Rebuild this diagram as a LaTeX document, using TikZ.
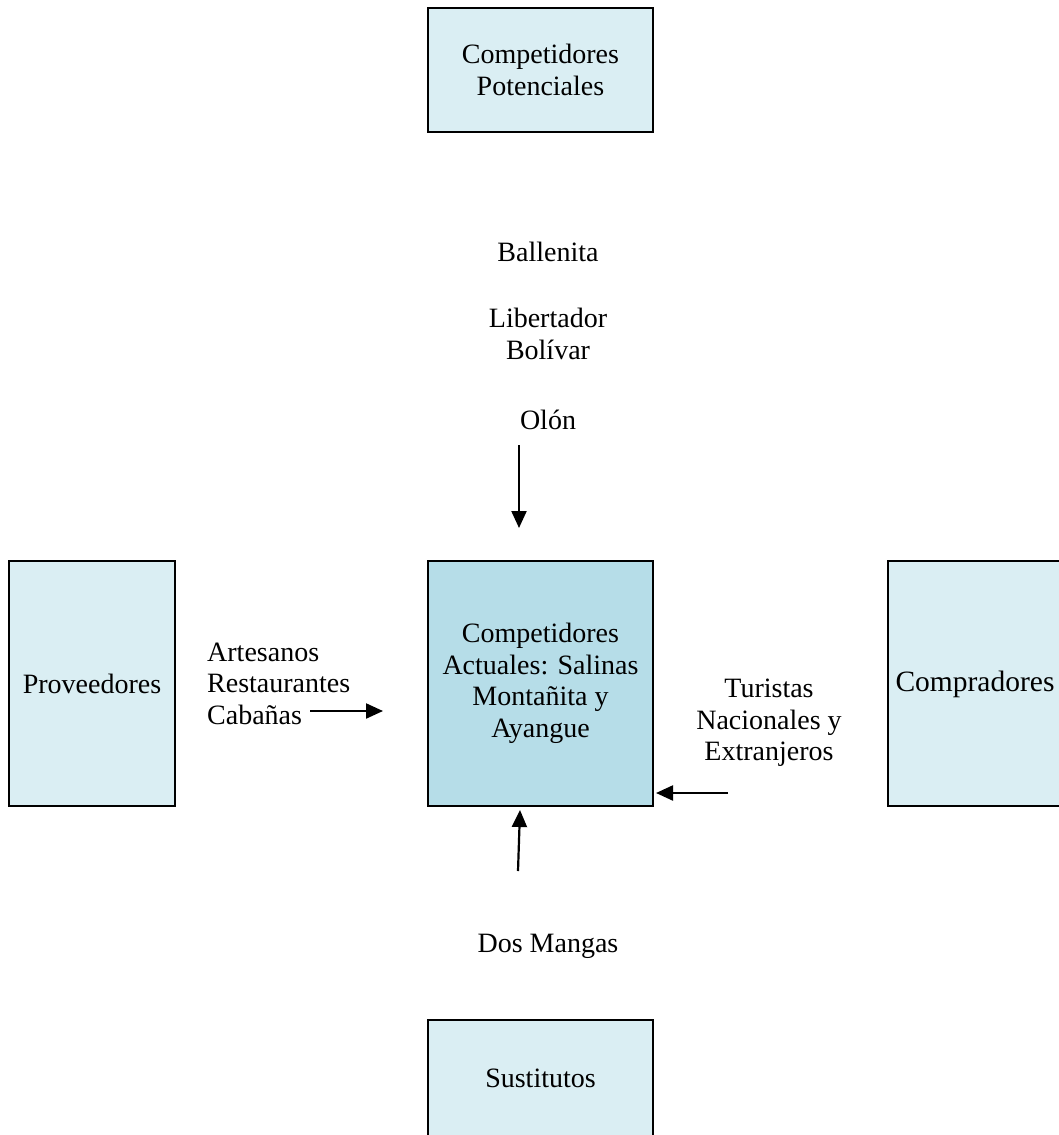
\documentclass[tikz,border=0pt]{standalone}
\usepackage{fontspec}
\setmainfont{Liberation Serif}
\usetikzlibrary{arrows.meta}
\definecolor{boxlight}{HTML}{DAEEF3}
\definecolor{boxmid}{HTML}{B6DDE8}

\begin{document}
\begin{tikzpicture}[x=1pt, y=-1pt,
    fuerza/.style={draw, line width=2.2pt, fill=boxlight, align=center, inner sep=0pt},
    etiqueta/.style={align=center, inner sep=0pt},
    flecha/.style={line width=2.2pt, -{Triangle[length=17pt, width=15pt]}}]
      \clip (0,0) rectangle (1059,1135);
      \fill[white] (0,0) rectangle (1059,1135);
      \fontsize{28}{31.5}\selectfont

      \node[fuerza, minimum width=225pt, minimum height=124pt] (potenciales) at (540.5,70) {Competidores\\Potenciales};
      \node[fuerza, fill=boxmid, minimum width=225pt, minimum height=245pt] (actuales) at (540.5,683.5) {Competidores\\Actuales: Salinas\\Montañita y\\Ayangue};
      \node[fuerza, minimum width=166pt, minimum height=245pt] (proveedores) at (92,683.5) {Proveedores};
      \node[fuerza, minimum width=176pt, minimum height=245pt] (compradores) at (976,683.5) {};
      \node[etiqueta] (compradorestxt) at (975,684) {\fontsize{29.5}{33}\selectfont Compradores};
      \node[fuerza, minimum width=225pt, minimum height=130pt] (sustitutos) at (540.5,1085) {};
      \node[etiqueta] (sustitutostxt) at (540.5,1078) {Sustitutos};

      \node[etiqueta] (ballenita) at (548,252) {Ballenita};
      \node[etiqueta] (libertador) at (548,334) {Libertador\\Bolívar};
      \node[etiqueta] (olon) at (548,420) {Olón};
      \node[etiqueta, align=left, anchor=west] (artesanos) at (207,683.5) {Artesanos\\Restaurantes\\Cabañas};
      \node[etiqueta] (turistas) at (769,723) {Turistas\\Nacionales y\\Extranjeros};
      \node[etiqueta] (dosmangas) at (548,946) {Dos Mangas};

      \coordinate (a1) at (519,445);
      \coordinate (a2) at (519,528);
      \coordinate (b1) at (310,711);
      \coordinate (b2) at (383,711);
      \coordinate (c1) at (728,793);
      \coordinate (c2) at (656,793);
      \coordinate (d1) at (518,871);
      \coordinate (d2) at (520,810);

      \draw[flecha] (a1) -- (a2);
      \draw[flecha] (b1) -- (b2);
      \draw[flecha] (c1) -- (c2);
      \draw[flecha] (d1) -- (d2);
\end{tikzpicture}
\end{document}
